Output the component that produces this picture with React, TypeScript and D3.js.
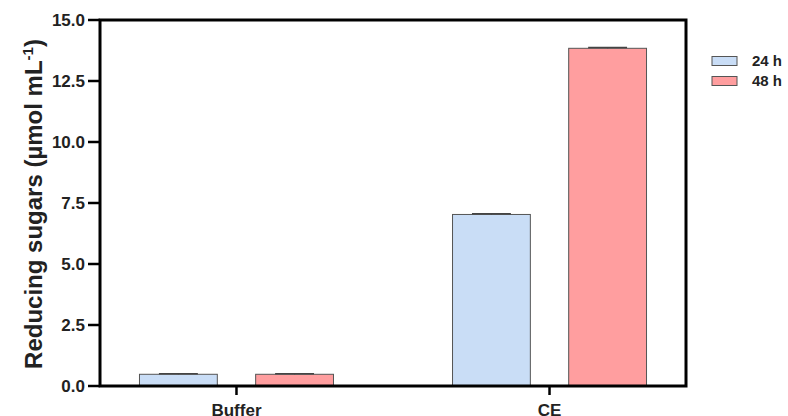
import React from "react";
import * as d3 from "d3";

const categories = ["Buffer", "CE"];
const seriesNames = ["24 h", "48 h"];
const values24 = [0.48, 7.03];
const values48 = [0.48, 13.84];
const errors24 = [0.02, 0.03];
const errors48 = [0.02, 0.03];
const yTicks = [0, 2.5, 5, 7.5, 10, 12.5, 15];
const colors = ["#c9ddf6", "#ff9e9f"];

const W = 788, H = 416;
const left = 100, right = 686, top = 20, bottom = 386;

export default function App() {
  const x = d3.scalePoint<string>().domain(categories).range([left, right]).padding(0.436);
  const sub = d3.scaleBand<string>().domain(seriesNames).range([-97, 97]).paddingInner(0.33);
  const y = d3.scaleLinear().domain([0, 15]).range([bottom, top]);
  const series = [
    { name: seriesNames[0], vals: values24, errs: errors24, color: colors[0] },
    { name: seriesNames[1], vals: values48, errs: errors48, color: colors[1] },
  ];
  const font = "Liberation Sans, Arial, sans-serif";
  return (
    <svg width={W} height={H} style={{ position: "absolute", left: 0, top: 0 }} fontFamily={font}>
      <rect width={W} height={H} fill="#fff" />
      {series.map((s) =>
        categories.map((c, i) => {
          const bx = (x(c) as number) + (sub(s.name) as number);
          const bw = sub.bandwidth();
          const yt = y(s.vals[i]);
          const cx = bx + bw / 2;
          return (
            <g key={s.name + c}>
              <rect x={bx} y={yt} width={bw} height={bottom - yt} fill={s.color} stroke="#555" strokeWidth={1} />
              <line x1={cx} x2={cx} y1={y(s.vals[i] + s.errs[i])} y2={yt} stroke="#444" strokeWidth={1.2} />
              <line x1={cx - bw / 4} x2={cx + bw / 4} y1={y(s.vals[i] + s.errs[i])} y2={y(s.vals[i] + s.errs[i])} stroke="#444" strokeWidth={1.5} />
            </g>
          );
        })
      )}
      <rect x={left} y={top} width={right - left} height={bottom - top} fill="none" stroke="#000" strokeWidth={3} />
      {yTicks.map((t) => (
        <g key={t}>
          <line x1={left - 12} x2={left} y1={y(t)} y2={y(t)} stroke="#000" strokeWidth={2.5} />
          <text x={left - 15} y={y(t)} dy="0.36em" textAnchor="end" fontSize={17} fontWeight="bold" fill="#222">
            {t.toFixed(1)}
          </text>
        </g>
      ))}
      {categories.map((c) => (
        <g key={c}>
          <line x1={x(c)} x2={x(c)} y1={bottom} y2={bottom + 9} stroke="#000" strokeWidth={2.5} />
          <text x={x(c)} y={416} textAnchor="middle" fontSize={17} fontWeight="bold" fill="#222">
            {c}
          </text>
        </g>
      ))}
      <text transform={`translate(42, ${(top + bottom) / 2 + 1}) rotate(-90)`} textAnchor="middle" fontSize={24} fontWeight="bold" fill="#222">
        Reducing sugars (µmol mL<tspan dy="-9" fontSize={15}>-1</tspan><tspan dy="9">)</tspan>
      </text>
      {series.map((s, i) => (
        <g key={s.name} transform={`translate(712, ${56.5 + i * 20})`}>
          <rect x={0} y={0} width={25} height={9} fill={s.color} stroke="#555" strokeWidth={1} />
          <text x={40} y={9.5} fontSize={15} fontWeight="bold" fill="#222">{s.name}</text>
        </g>
      ))}
    </svg>
  );
}
